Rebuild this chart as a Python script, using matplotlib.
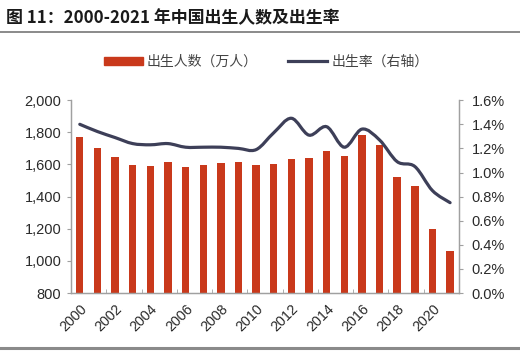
import numpy as np
import matplotlib
matplotlib.use("Agg")
import matplotlib.pyplot as plt
from matplotlib.path import Path
from matplotlib.patches import PathPatch, Patch
from matplotlib.lines import Line2D
from matplotlib.ticker import FuncFormatter, FixedLocator

plt.rcParams["font.family"] = ["Liberation Sans", "Noto Sans CJK SC", "DejaVu Sans"]

years = list(range(2000, 2022))
births = [1771, 1702, 1647, 1599, 1593, 1617, 1584, 1594, 1608, 1615, 1596,
          1604, 1635, 1640, 1687, 1655, 1786, 1723, 1523, 1465, 1200, 1062]
birth_rate = [1.40, 1.34, 1.29, 1.24, 1.23, 1.24, 1.21, 1.21, 1.21, 1.20, 1.19,
              1.33, 1.45, 1.31, 1.38, 1.21, 1.36, 1.27, 1.09, 1.05, 0.85, 0.75]

BAR = "#c9391b"
LINE = "#3d3f58"
GRAY = "#a0a0a0"
TXT = "#2a2a2a"


def smooth_path(x, y):
    # catmull-rom style bezier, like an excel "smoothed line"
    x = np.asarray(x, float)
    y = np.asarray(y, float)
    pts = np.column_stack([x, y])
    verts = [pts[0]]
    codes = [Path.MOVETO]
    n = len(pts)
    for i in range(n - 1):
        p0 = pts[max(i - 1, 0)]
        p1 = pts[i]
        p2 = pts[i + 1]
        p3 = pts[min(i + 2, n - 1)]
        c1 = p1 + (p2 - p0) / 6.0
        c2 = p2 - (p3 - p1) / 6.0
        verts += [c1, c2, p2]
        codes += [Path.CURVE4] * 3
    return Path(verts, codes)


fig = plt.figure(figsize=(5.2, 3.54), dpi=100)
ax = fig.add_axes([0.1365, 0.172, 0.746, 0.545])
ax2 = ax.twinx()

xpos = np.arange(len(years))
ax.bar(xpos, births, width=0.42, color=BAR, zorder=2)
ax.set_xlim(-0.5, len(years) - 0.5)
ax.set_ylim(800, 2000)
ax.set_yticks(range(800, 2001, 200))
ax.yaxis.set_major_formatter(FuncFormatter(lambda v, p: f"{int(v):,}"))

ax2.add_patch(PathPatch(smooth_path(xpos, birth_rate), fill=False,
                        edgecolor=LINE, lw=2.3, capstyle="round", zorder=3))
ax2.set_ylim(0, 1.6)
ax2.set_yticks(np.arange(0, 1.61, 0.2))
ax2.yaxis.set_major_formatter(FuncFormatter(lambda v, p: f"{v:.1f}%"))

ax.set_xticks(xpos[::2])
ax.set_xticklabels([str(y) for y in years[::2]], rotation=45, ha="right",
                   rotation_mode="anchor", fontsize=10.3, color=TXT)
ax.tick_params(axis="x", length=0, pad=6)
ax.xaxis.set_minor_locator(FixedLocator(np.arange(1.5, len(years), 2)))
ax.tick_params(axis="x", which="minor", direction="in", length=3, color=GRAY)
ax.tick_params(axis="y", labelsize=10.5, labelcolor=TXT, length=3, color=GRAY, pad=4)
ax2.tick_params(axis="y", labelsize=10.5, labelcolor=TXT, length=3, color=GRAY, pad=6)

for a in (ax, ax2):
    a.spines["top"].set_visible(False)
    for s in ("left", "right", "bottom"):
        a.spines[s].set_color(GRAY)
        a.spines[s].set_linewidth(0.9)

fig.text(0.012, 0.948, "图 11：2000-2021 年中国出生人数及出生率", fontsize=12.2,
         fontweight="bold", va="center", color="#1a1a1a",
         family=["Noto Sans CJK SC", "DejaVu Sans"])
fig.add_artist(Line2D([0, 1], [0.909, 0.909], color="#8a8a8a", lw=1.4))
fig.add_artist(Line2D([0, 1], [0.017, 0.017], color="#8a8a8a", lw=2.2))

handles = [Patch(color=BAR, label="出生人数（万人）"),
           Line2D([], [], color=LINE, lw=2.3, label="出生率（右轴）")]
fig.legend(handles=handles, loc="center", bbox_to_anchor=(0.512, 0.825), ncol=2,
           frameon=False, handlelength=2.8, handleheight=0.6,
           columnspacing=2.2, handletextpad=0.3, labelcolor="#444444",
           prop={"family": ["Noto Sans CJK SC", "DejaVu Sans"], "size": 10})

fig.savefig("out.png", dpi=100)
